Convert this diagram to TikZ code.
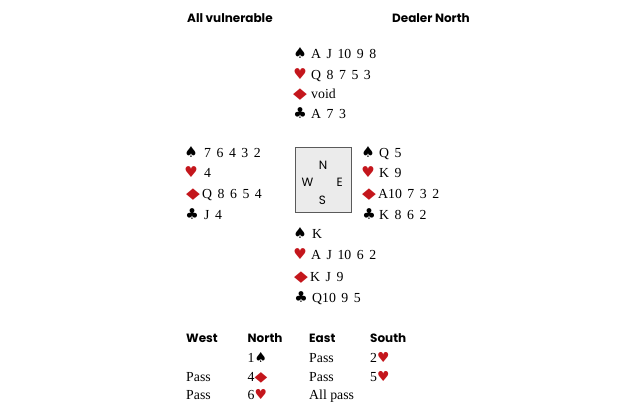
\documentclass[tikz,border=0pt]{standalone}
\usepackage{fontspec}
\setmainfont{Liberation Serif}
\newfontfamily\cardfont{Liberation Serif}[WordSpace=1.6]
\newfontfamily\headfont{Poppins}
\newfontfamily\suitfont{DejaVu Sans}
\usepackage{xcolor}
\definecolor{suitred}{HTML}{C4161C}
\definecolor{boxgray}{HTML}{EBEBEB}
\definecolor{boxline}{HTML}{5A5A5A}
\newcommand{\spd}{♠}
\newcommand{\hrt}{♥}
\newcommand{\dmd}{\scalebox{1.2}[1]{◆}}
\newcommand{\clb}{♣}

\begin{document}
\begin{tikzpicture}[x=1pt,y=-1pt]
\tikzstyle{suit} =[inner sep=0pt,anchor=base,font=\suitfont\fontsize{15}{15}\selectfont]
\tikzstyle{redsuit} =[suit,text=suitred]
\tikzstyle{cards} =[inner sep=0pt,anchor=base west,font=\cardfont\fontsize{13.8}{14}\selectfont]
\tikzstyle{bid} =[inner sep=0pt,anchor=base west,font=\fontsize{13.8}{14}\selectfont]
\tikzstyle{head} =[inner sep=0pt,anchor=base west,font=\headfont\bfseries\fontsize{12}{12}\selectfont]
\tikzstyle{compass} =[inner sep=0pt,anchor=base,font=\headfont\fontsize{12}{12}\selectfont]
\useasboundingbox (0,0) rectangle (620,413);

\node[head](vul) at (187,22.7){All vulnerable};
\node[head,anchor=base east](dealer) at (470,22.7){Dealer North};

% North
\node[suit](ns) at (300,58){\spd};
\node[cards](nsc) at (311,58){A J 10 9 8};
\node[redsuit](nh) at (300,79){\hrt};
\node[cards](nhc) at (311,79){Q 8 7 5 3};
\node[redsuit](nd) at (300,98.5){\dmd};
\node[cards](ndc) at (311,98.5){void};
\node[suit](nc) at (300,118.5){\clb};
\node[cards](ncc) at (311,118.5){A 7 3};

% West
\node[suit](ws) at (191,157){\spd};
\node[cards](wsc) at (204,157){7 6 4 3 2};
\node[redsuit](wh) at (191,177){\hrt};
\node[cards](whc) at (204,177){4};
\node[redsuit](wd) at (193,198){\dmd};
\node[cards](wdc) at (202,198){Q 8 6 5 4};
\node[suit](wc) at (192,219){\clb};
\node[cards](wcc) at (204,219){J 4};

% table
\node[draw=boxline,fill=boxgray,minimum width=56.5pt,minimum height=65pt,inner sep=0pt](table) at (323.3,179.2){};
\node[compass](tn) at (323,169.3){N};
\node[compass](tw) at (307.5,186){W};
\node[compass](te) at (339.7,186){E};
\node[compass](ts) at (322.5,204.5){S};

% East
\node[suit](es) at (368,157){\spd};
\node[cards](esc) at (379,157){Q 5};
\node[redsuit](eh) at (368,177){\hrt};
\node[cards](ehc) at (379,177){K 9};
\node[redsuit](ed) at (369,198){\dmd};
\node[cards](edc) at (378,198){A10 7 3 2};
\node[suit](ec) at (369,219){\clb};
\node[cards](ecc) at (379,219){K 8 6 2};

% South
\node[suit](ss) at (300,238){\spd};
\node[cards](ssc) at (312,238){K};
\node[redsuit](sh) at (300,259){\hrt};
\node[cards](shc) at (311,259){A J 10 6 2};
\node[redsuit](sd) at (301,281){\dmd};
\node[cards](sdc) at (310,281){K J 9};
\node[suit](sc) at (301,302){\clb};
\node[cards](scc) at (312,302){Q10 9 5};

% bidding
\node[head](bw) at (186,342){West};
\node[head](bn) at (247.5,342){North};
\node[head](be) at (309,342){East};
\node[head](bs) at (370,342){South};

\node[bid](b1n) at (247.5,362){1{\suitfont\spd}};
\node[bid](b1e) at (309,362){Pass};
\node[bid](b1s) at (370,362){2{\suitfont\color{suitred}\hrt}};
\node[bid](b2w) at (186,381.5){Pass};
\node[bid](b2n) at (247.5,381.5){4{\suitfont\color{suitred}\dmd}};
\node[bid](b2e) at (309,381.5){Pass};
\node[bid](b2s) at (370,381.5){5{\suitfont\color{suitred}\hrt}};
\node[bid](b3w) at (186,399){Pass};
\node[bid](b3n) at (247.5,399){6{\suitfont\color{suitred}\hrt}};
\node[bid](b3e) at (309,399){All pass};
\end{tikzpicture}
\end{document}
